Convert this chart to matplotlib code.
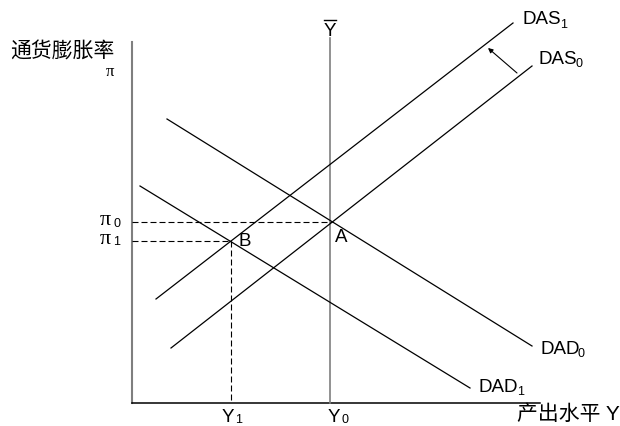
import numpy as np
import matplotlib
matplotlib.use("Agg")
import matplotlib.pyplot as plt

plt.rcParams['font.family'] = ['Liberation Sans', 'Noto Sans CJK SC', 'DejaVu Sans']

# 曲線の端点 (図のピクセル座標系, y は下向き)
dad0 = [(167, 119), (532, 346)]
dad1 = [(140, 186), (470, 388)]
das0 = [(171, 348), (532, 66)]
das1 = [(156, 299), (513, 23)]
y_bar_x = 330
origin = (132, 403)
x_end = 540
y_top = 42

# ラベル
curve_labels = [("DAS", "1", 522, 20), ("DAS", "0", 538, 59),
                ("DAD", "0", 540, 349), ("DAD", "1", 479, 387)]


def line_coef(p):
    (x0, y0), (x1, y1) = p
    m = (y1 - y0) / (x1 - x0)
    return m, y0 - m * x0


def intersect(p, q):
    m1, b1 = line_coef(p)
    m2, b2 = line_coef(q)
    x = (b2 - b1) / (m1 - m2)
    return x, m1 * x + b1


fig = plt.figure(figsize=(6.2, 4.26), dpi=100)
ax = fig.add_axes([0, 0, 1, 1])
ax.set_xlim(0, 620)
ax.set_ylim(426, 0)
ax.axis('off')

# 軸
ax.plot([origin[0], origin[0]], [origin[1], y_top], color='#7f7f7f', lw=1.5)
ax.plot([origin[0], x_end], [origin[1], origin[1]], color='black', lw=1.1)
ax.plot([y_bar_x, y_bar_x], [origin[1], 38], color='#7f7f7f', lw=1.2)

for seg in (dad0, dad1, das0, das1):
    xs, ys = zip(*seg)
    ax.plot(xs, ys, color='black', lw=0.9)

# 均衡点
ax_, ay_ = intersect(dad0, das0)
bx_, by_ = intersect(dad1, das1)
dash = (0, (5.4, 2.7))
ax.plot([origin[0], ax_], [ay_, ay_], color='black', lw=0.8, ls=dash)
ax.plot([origin[0], bx_], [by_, by_], color='black', lw=0.8, ls=dash)
ax.plot([bx_, bx_], [by_, origin[1]], color='black', lw=0.8, ls=dash)

# 矢印
ax.annotate('', xy=(488, 48), xytext=(517, 73),
            arrowprops=dict(arrowstyle='-|>', color='black', lw=0.8,
                            mutation_scale=7, shrinkA=0, shrinkB=0))

fs = 13.5
sub = 9
for main, s, x, y in curve_labels:
    ax.text(x, y, main, fontsize=fs, ha='left', va='center')
    ax.text(x + 38, y + 5, s, fontsize=sub, ha='left', va='center')

ax.text(ax_ + 3, ay_ + 16, "A", fontsize=fs, ha='left', va='center')
ax.text(bx_ + 8, by_, "B", fontsize=fs, ha='left', va='center')

# π ラベル
ax.text(100, ay_ - 1, "π", fontsize=16, family='Liberation Serif', ha='left', va='center')
ax.text(113, ay_ + 2, "0", fontsize=sub, ha='left', va='center')
ax.text(100, by_ - 2, "π", fontsize=16, family='Liberation Serif', ha='left', va='center')
ax.text(113, by_ + 1, "1", fontsize=sub, ha='left', va='center')
ax.text(110, 72, "π", fontsize=12, family='Liberation Serif', ha='center', va='center')

# Y ラベル
ax.text(bx_ - 9, 417, "Y", fontsize=fs, ha='left', va='center')
ax.text(bx_ + 5, 420, "1", fontsize=sub, ha='left', va='center')
ax.text(y_bar_x - 2, 417, "Y", fontsize=fs, ha='left', va='center')
ax.text(y_bar_x + 12, 420, "0", fontsize=sub, ha='left', va='center')
ax.text(y_bar_x, 32, "Y", fontsize=fs, ha='center', va='center')
ax.plot([y_bar_x - 6, y_bar_x + 6], [20, 20], color='black', lw=1.0)

ax.text(10, 52, "通货膨胀率", fontsize=15, ha='left', va='center')
ax.text(517, 414, "产出水平 Y", fontsize=15, ha='left', va='center')

fig.savefig("out.png", dpi=100)
